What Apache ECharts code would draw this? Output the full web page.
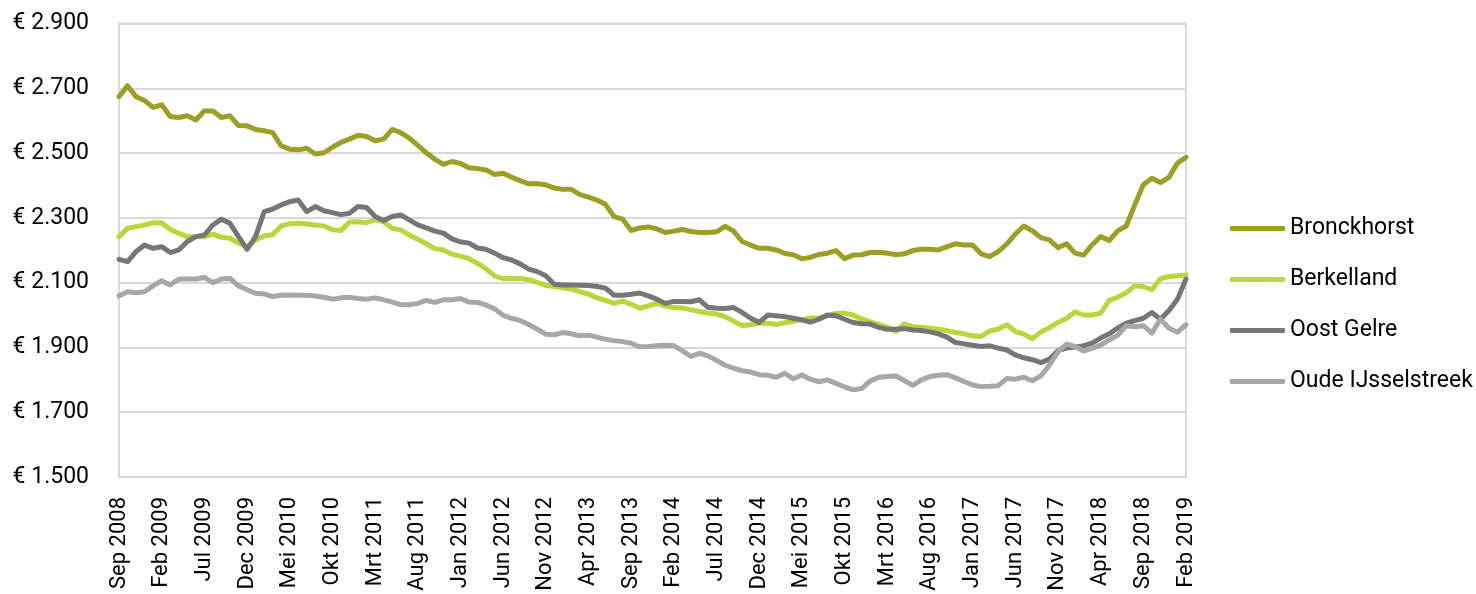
<!DOCTYPE html>
<html>
<head>
<meta charset="utf-8">
<script src="https://cdn.jsdelivr.net/npm/echarts@6/dist/echarts.min.js"></script>
<style>
  html, body { margin: 0; padding: 0; background: #ffffff; }
  #chart { width: 1476px; height: 594px; }
</style>
</head>
<body>
<div id="chart"></div>
<script>
// Monthly series, Sep 2008 through Feb 2019 (values in euros)
const monthNames = ['Jan', 'Feb', 'Mrt', 'Apr', 'Mei', 'Jun', 'Jul', 'Aug', 'Sep', 'Okt', 'Nov', 'Dec'];
const startYear = 2008;
const startMonth = 8;   // index into monthNames: Sep
const monthCount = 126;

const seriesNames = ['Bronckhorst', 'Berkelland', 'Oost Gelre', 'Oude IJsselstreek'];

const bronckhorst = [
  2674,2708,2674,2662,2641,2649,2613,2610,2615,2602,
  2630,2630,2610,2615,2585,2584,2573,2569,2563,2522,
  2512,2510,2515,2497,2501,2518,2533,2543,2555,2551,
  2538,2543,2573,2563,2546,2524,2501,2481,2465,2474,
  2468,2455,2452,2448,2434,2438,2425,2415,2405,2405,
  2402,2392,2388,2388,2372,2364,2355,2341,2304,2296,
  2261,2269,2272,2266,2255,2259,2264,2258,2255,2255,
  2257,2274,2259,2227,2216,2206,2206,2201,2190,2186,
  2174,2178,2187,2191,2199,2174,2185,2186,2193,2194,
  2191,2186,2189,2199,2203,2203,2201,2211,2220,2216,
  2216,2189,2180,2196,2219,2250,2275,2260,2239,2232,
  2208,2220,2191,2185,2217,2242,2230,2260,2275,2340,
  2402,2422,2409,2425,2469,2487
];

const berkelland = [
  2242,2268,2273,2278,2285,2285,2265,2252,2242,2242,
  2242,2250,2240,2237,2222,2211,2232,2244,2248,2275,
  2282,2283,2281,2278,2275,2263,2261,2287,2288,2285,
  2294,2288,2268,2263,2247,2234,2220,2205,2201,2188,
  2182,2174,2160,2142,2121,2112,2113,2113,2109,2101,
  2091,2088,2084,2080,2072,2065,2053,2045,2036,2043,
  2033,2021,2028,2036,2028,2023,2022,2016,2011,2006,
  2003,1995,1981,1968,1970,1975,1975,1971,1976,1981,
  1985,1991,1992,1997,2005,2006,2000,1988,1979,1971,
  1962,1949,1973,1964,1962,1959,1956,1952,1946,1942,
  1936,1934,1950,1957,1970,1949,1941,1927,1948,1961,
  1977,1989,2010,2000,2000,2006,2045,2055,2069,2090,
  2088,2078,2112,2119,2121,2124
];

const oostGelre = [
  2172,2165,2196,2216,2206,2211,2193,2201,2227,2242,
  2247,2278,2296,2283,2242,2203,2242,2319,2327,2340,
  2350,2355,2319,2335,2322,2316,2310,2314,2335,2332,
  2304,2292,2304,2309,2294,2278,2269,2259,2253,2235,
  2226,2222,2207,2203,2191,2177,2170,2158,2142,2134,
  2121,2095,2093,2093,2092,2091,2088,2083,2061,2061,
  2064,2068,2059,2049,2036,2042,2042,2041,2047,2024,
  2021,2020,2023,2008,1990,1977,2000,1998,1995,1990,
  1985,1978,1987,2000,1998,1987,1977,1973,1972,1962,
  1956,1956,1958,1954,1952,1948,1942,1932,1915,1911,
  1907,1903,1905,1898,1892,1877,1868,1862,1853,1864,
  1890,1898,1901,1905,1913,1929,1942,1960,1975,1983,
  1990,2008,1987,2014,2049,2111
];

const oudeIJsselstreek = [
  2059,2072,2069,2072,2090,2106,2093,2111,2111,2111,
  2116,2100,2111,2113,2090,2078,2067,2065,2057,2061,
  2062,2061,2061,2059,2055,2049,2053,2055,2051,2049,
  2053,2047,2040,2032,2032,2036,2045,2039,2047,2047,
  2051,2040,2039,2031,2019,1999,1990,1983,1971,1956,
  1941,1939,1946,1942,1936,1938,1932,1925,1921,1918,
  1913,1902,1903,1905,1907,1905,1890,1872,1882,1874,
  1860,1845,1836,1828,1824,1816,1814,1808,1820,1803,
  1815,1802,1794,1800,1789,1778,1769,1773,1796,1808,
  1810,1812,1798,1783,1800,1810,1814,1816,1806,1795,
  1784,1779,1780,1782,1804,1802,1808,1797,1812,1845,
  1886,1910,1903,1889,1897,1907,1923,1938,1967,1964,
  1967,1944,1987,1959,1947,1970
];

// Category labels "Sep 2008", "Okt 2008", ...
const categories = [];
for (let k = 0; k < monthCount; k++) {
  const m = (startMonth + k) % 12;
  const y = startYear + Math.floor((startMonth + k) / 12);
  categories.push(monthNames[m] + ' ' + y);
}

const colors = ['#9c9f24', '#bbd63a', '#767676', '#a7a7a7'];
const values = [bronckhorst, berkelland, oostGelre, oudeIJsselstreek];
const FONT = "Roboto, 'Liberation Sans', sans-serif";

function euro(v) {
  const s = String(Math.round(v));
  return '€ ' + s.replace(/\B(?=(\d{3})+(?!\d))/g, '.');
}

const chart = echarts.init(document.getElementById('chart'), null, { renderer: 'canvas' });

chart.setOption({
  animation: false,
  backgroundColor: '#ffffff',
  color: colors,
  grid: {
    left: 119, right: 290, top: 23.5, bottom: 117,
    containLabel: false,
    outerBoundsMode: 'none',
    show: true,
    borderColor: '#d9d9d9',
    borderWidth: 2
  },
  legend: {
    orient: 'vertical',
    left: 1225,
    top: 212,
    itemWidth: 55,
    itemHeight: 5,
    itemGap: 28,
    icon: 'roundRect',
    textStyle: { fontFamily: FONT, fontSize: 23, color: '#000000' },
    data: seriesNames
  },
  xAxis: {
    type: 'category',
    data: categories,
    boundaryGap: false,
    axisLine: { show: true, lineStyle: { color: '#d9d9d9', width: 2 } },
    axisTick: { show: false },
    axisLabel: {
      interval: 4,
      rotate: 90,
      margin: 20,
      fontFamily: FONT,
      fontSize: 22,
      color: '#000000'
    },
    splitLine: { show: false }
  },
  yAxis: {
    type: 'value',
    min: 1500,
    max: 2900,
    interval: 200,
    axisLine: { show: true, lineStyle: { color: '#d9d9d9', width: 2 } },
    axisTick: { show: false },
    axisLabel: {
      margin: 30,
      fontFamily: FONT,
      fontSize: 23,
      color: '#000000',
      formatter: euro
    },
    splitLine: { show: true, lineStyle: { color: '#d9d9d9', width: 2 } }
  },
  series: seriesNames.map((name, idx) => ({
    name: name,
    type: 'line',
    data: values[idx],
    symbol: 'none',
    smooth: false,
    lineStyle: { width: 5, color: colors[idx], cap: 'round', join: 'round' },
    itemStyle: { color: colors[idx] },
    emphasis: { disabled: true }
  }))
});
</script>
</body>
</html>
